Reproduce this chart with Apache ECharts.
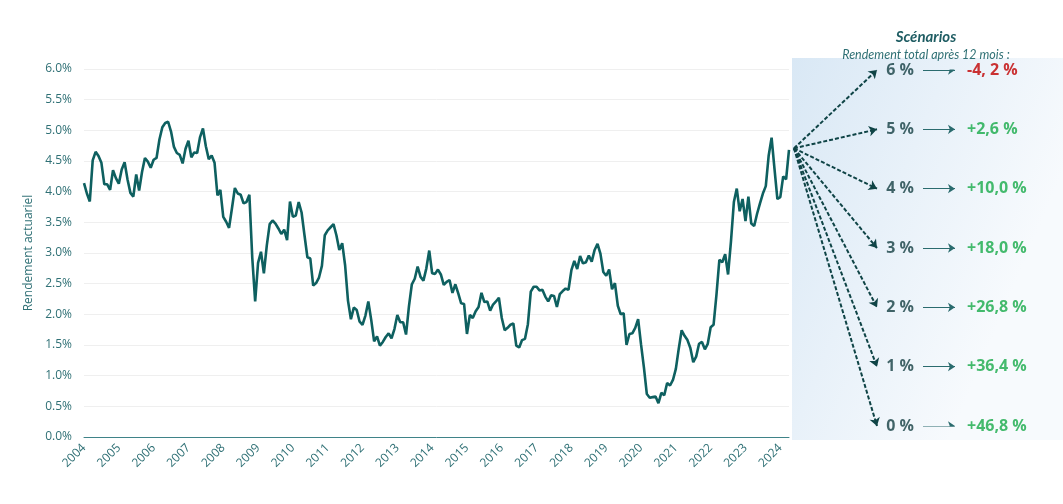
<!DOCTYPE html>
<html>
<head>
<meta charset="utf-8">
<script src="https://cdn.jsdelivr.net/npm/echarts@6/dist/echarts.min.js"></script>
<style>
html,body{margin:0;padding:0;background:#fff;}
#chart{width:1063px;height:504px;}
</style>
</head>
<body>
<div id="chart"></div>
<script>
// Monthly yields (%), Jan 2004 -> Apr 2024
const y2004 = [4.14,3.97,3.84,4.51,4.65,4.58,4.47,4.12,4.12,4.03,4.35,4.22];
const y2005 = [4.13,4.36,4.48,4.20,3.98,3.92,4.28,4.02,4.32,4.55,4.49,4.39];
const y2006 = [4.52,4.55,4.85,5.05,5.12,5.14,4.98,4.73,4.63,4.60,4.46,4.70];
const y2007 = [4.83,4.56,4.64,4.63,4.89,5.03,4.74,4.53,4.59,4.47,3.94,4.03];
const y2008 = [3.59,3.51,3.41,3.73,4.06,3.97,3.95,3.81,3.83,3.95,2.92,2.21];
const y2009 = [2.84,3.02,2.67,3.12,3.47,3.53,3.48,3.40,3.31,3.38,3.21,3.84];
const y2010 = [3.59,3.61,3.83,3.66,3.29,2.93,2.91,2.47,2.51,2.60,2.79,3.29];
const y2011 = [3.37,3.42,3.47,3.29,3.05,3.16,2.80,2.22,1.92,2.11,2.07,1.88];
const y2012 = [1.83,1.98,2.21,1.91,1.56,1.64,1.49,1.55,1.63,1.69,1.61,1.76];
const y2013 = [1.99,1.87,1.87,1.67,2.13,2.49,2.58,2.78,2.61,2.55,2.75,3.04];
const y2014 = [2.67,2.66,2.73,2.65,2.48,2.53,2.56,2.35,2.49,2.34,2.18,2.17];
const y2015 = [1.68,1.99,1.94,2.05,2.12,2.35,2.20,2.21,2.06,2.16,2.21,2.27];
const y2016 = [1.94,1.74,1.78,1.83,1.85,1.49,1.46,1.58,1.60,1.84,2.37,2.45];
const y2017 = [2.45,2.39,2.40,2.29,2.21,2.31,2.30,2.12,2.33,2.38,2.42,2.40];
const y2018 = [2.72,2.87,2.74,2.95,2.83,2.85,2.96,2.86,3.05,3.15,2.99,2.69];
const y2019 = [2.63,2.73,2.41,2.51,2.14,2.00,2.02,1.50,1.68,1.69,1.78,1.92];
const y2020 = [1.51,1.13,0.70,0.64,0.65,0.66,0.55,0.72,0.68,0.88,0.84,0.93];
const y2021 = [1.11,1.44,1.74,1.65,1.58,1.45,1.22,1.31,1.52,1.55,1.43,1.52];
const y2022 = [1.79,1.83,2.32,2.89,2.85,2.98,2.65,3.19,3.83,4.05,3.68,3.88];
const y2023 = [3.52,3.92,3.48,3.44,3.64,3.81,3.97,4.09,4.59,4.88,4.37,3.88];
const y2024 = [3.91,4.25,4.20,4.68];

const yearLabels = ['2004','2005','2006','2007','2008','2009','2010','2011','2012','2013','2014','2015','2016','2017','2018','2019','2020','2021','2022','2023','2024'];
const yearSeries = [y2004,y2005,y2006,y2007,y2008,y2009,y2010,y2011,y2012,y2013,y2014,y2015,y2016,y2017,y2018,y2019,y2020,y2021,y2022,y2023,y2024];

// Scenarios
const scenarioRates = [6,5,4,3,2,1,0];
const scenarioReturns = ['-4, 2 %','+2,6 %','+10,0 %','+18,0 %','+26,8 %','+36,4 %','+46,8 %'];
const scenarioNegative = [true,false,false,false,false,false,false];

// Build category list and series
const categories = [];
const yields = [];
yearSeries.forEach((arr, yi) => {
  arr.forEach((v, mi) => {
    categories.push(yearLabels[yi] + '-' + String(mi + 1).padStart(2, '0'));
    yields.push(v);
  });
});
const lastYield = yields[yields.length - 1];

const TEAL_TXT = '#2f7075';
const chart = echarts.init(document.getElementById('chart'));

const option = {
  backgroundColor: '#ffffff',
  animation: false,
  textStyle: { fontFamily: 'Open Sans' },
  title: [
    { text: 'Scénarios', left: 921, top: 25, textAlign: 'center',
      textStyle: { fontFamily: 'Lato', fontSize: 15, fontStyle: 'italic', fontWeight: 'bold', color: '#1f5d63' } },
    { text: 'Rendement total après 12 mois :', left: 921, top: 43, textAlign: 'center',
      textStyle: { fontFamily: 'Lato', fontSize: 12.5, fontStyle: 'italic', fontWeight: 'normal', color: TEAL_TXT } }
  ],
  graphic: [
    { type: 'rect', z: -10, silent: true,
      shape: { x: 792, y: 58, width: 271, height: 382 },
      style: { fill: new echarts.graphic.LinearGradient(0, 0, 1, 0.3, [
        { offset: 0, color: '#d9e8f5' }, { offset: 1, color: '#f7fafd' }]) } }
  ],
  grid: [
    { left: 84, right: 274, top: 69, bottom: 67 },
    { left: 792, top: 70, width: 271, height: 356 }
  ],
  xAxis: [
    { type: 'category', gridIndex: 0, data: categories, boundaryGap: false,
      axisLine: { show: true, lineStyle: { color: '#3f8388', width: 1 } },
      axisTick: { show: false },
      axisLabel: { interval: (i) => i % 12 === 0, rotate: 45, margin: 9,
        color: TEAL_TXT, fontSize: 12, fontFamily: 'Open Sans',
        formatter: (v) => v.slice(0, 4) },
      splitLine: { show: false } },
    { type: 'value', gridIndex: 1, min: 0, max: 271, show: false }
  ],
  yAxis: [
    { type: 'value', gridIndex: 0, min: 0, max: 6, interval: 0.5,
      name: 'Rendement actuariel', nameLocation: 'middle', nameGap: 48,
      nameTextStyle: { color: TEAL_TXT, fontSize: 12, fontFamily: 'Open Sans' },
      axisLine: { show: false }, axisTick: { show: false },
      axisLabel: { color: TEAL_TXT, fontSize: 12, margin: 12, fontFamily: 'Open Sans',
        formatter: (v) => v.toFixed(1) + '%' },
      splitLine: { lineStyle: { color: '#efefef', width: 1 } } },
    { type: 'value', gridIndex: 1, min: 0, max: 6, show: false }
  ],
  series: [
    { type: 'line', name: 'Rendement', xAxisIndex: 0, yAxisIndex: 0, data: yields,
      showSymbol: false, symbol: 'none',
      lineStyle: { color: '#0e6060', width: 2.6 }, z: 3 },
    { type: 'lines', coordinateSystem: 'cartesian2d', xAxisIndex: 1, yAxisIndex: 1,
      symbol: ['none', 'arrow'], symbolSize: 8,
      lineStyle: { color: '#0f4446', width: 2, type: [4, 2], opacity: 1 },
      data: scenarioRates.map(r => ({ coords: [[2, lastYield], [85, r]] })), z: 4 },
    { type: 'lines', coordinateSystem: 'cartesian2d', xAxisIndex: 1, yAxisIndex: 1,
      symbol: ['none', 'arrow'], symbolSize: 7,
      lineStyle: { color: '#2a6b6e', width: 1, opacity: 1 },
      data: scenarioRates.map(r => ({ coords: [[131, r], [163, r]] })), z: 4 },
    { type: 'scatter', xAxisIndex: 1, yAxisIndex: 1, symbolSize: 0,
      data: scenarioRates.map(r => [108, r]),
      label: { show: true, position: 'inside', formatter: (p) => p.value[1] + ' %',
        fontFamily: 'Open Sans', fontWeight: 'bold', fontSize: 16, color: '#143f42' }, z: 5 },
    { type: 'scatter', xAxisIndex: 1, yAxisIndex: 1, symbolSize: 0,
      data: scenarioRates.map((r, i) => ({ value: [175, r],
        label: { color: scenarioNegative[i] ? '#c00000' : '#16aa48' } })),
      label: { show: true, position: 'right', distance: 0,
        formatter: (p) => scenarioReturns[p.dataIndex],
        fontFamily: 'Open Sans', fontWeight: 'bold', fontSize: 16 }, z: 5 }
  ]
};
chart.setOption(option);
</script>
</body>
</html>
